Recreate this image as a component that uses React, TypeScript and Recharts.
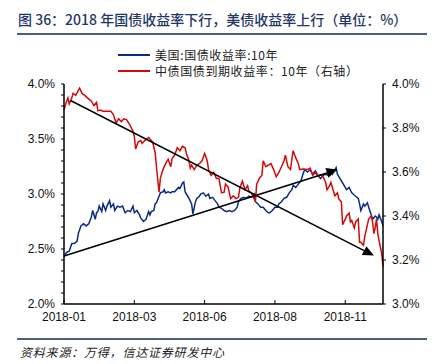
import React from 'react';
import { LineChart, Line, XAxis, YAxis, ReferenceLine, Legend } from 'recharts';

// trading-day index (0 = 2018-01-02) and yields
const usDays = [0, 2, 4, 6, 8, 10, 11, 13, 15, 17, 19, 21, 22, 24, 25, 26, 27, 29, 30, 32, 33, 35, 36, 38, 39, 41, 43, 45, 47, 49, 51, 53, 54, 56, 58, 59, 61, 63, 65, 66, 67, 69, 70, 71, 73, 74, 76, 77, 78, 80, 82, 83, 85, 88, 89, 91, 92, 93, 94, 96, 98, 99, 101, 102, 104, 105, 107, 109, 111, 112, 114, 116, 118, 119, 121, 123, 125, 127, 129, 131, 133, 134, 136, 138, 140, 142, 144, 146, 147, 149, 151, 153, 155, 157, 158, 160, 162, 164, 165, 167, 169, 171, 173, 175, 176, 178, 180, 182, 184, 185, 187, 189, 191, 193, 195, 197, 199, 201, 203, 205, 206, 208, 209, 210, 212, 214, 216, 217, 219, 221, 222, 224, 226, 227, 228, 230, 231, 233, 234, 236, 237, 239, 240, 241, 242, 244, 245];
const usYield = [2.43, 2.47, 2.48, 2.55, 2.55, 2.57, 2.64, 2.71, 2.73, 2.71, 2.73, 2.79, 2.85, 2.77, 2.83, 2.84, 2.89, 2.84, 2.91, 2.85, 2.89, 2.94, 2.88, 2.91, 2.85, 2.89, 2.88, 2.89, 2.83, 2.85, 2.84, 2.89, 2.83, 2.85, 2.81, 2.78, 2.75, 2.77, 2.84, 2.81, 2.84, 2.85, 2.91, 2.92, 2.98, 3.01, 3.02, 3.04, 3.01, 3.02, 3.01, 3.02, 3.02, 3.06, 3.05, 3.10, 3.11, 3.02, 3.00, 2.96, 2.91, 2.82, 2.93, 2.96, 2.98, 3.00, 3.01, 2.98, 3.00, 2.96, 2.97, 2.94, 2.91, 2.88, 2.87, 2.85, 2.84, 2.85, 2.84, 2.85, 2.88, 2.93, 2.96, 2.97, 2.96, 2.98, 2.97, 3.00, 2.93, 2.91, 2.88, 2.88, 2.85, 2.83, 2.83, 2.85, 2.88, 2.88, 2.91, 2.93, 2.96, 2.97, 3.01, 3.04, 3.08, 3.06, 3.09, 3.12, 3.20, 3.22, 3.20, 3.22, 3.18, 3.21, 3.17, 3.14, 3.17, 3.18, 3.17, 3.20, 3.18, 3.22, 3.24, 3.18, 3.14, 3.10, 3.06, 3.04, 3.06, 3.01, 3.00, 2.98, 2.96, 2.91, 2.85, 2.91, 2.89, 2.92, 2.88, 2.81, 2.77, 2.80, 2.79, 2.77, 2.81, 2.75, 2.71];

const cnDays = [0, 2, 3, 4, 6, 7, 9, 12, 14, 16, 18, 21, 23, 25, 26, 28, 30, 34, 36, 38, 40, 42, 44, 46, 48, 49, 51, 53, 54, 55, 57, 59, 60, 62, 65, 68, 70, 71, 73, 74, 76, 78, 80, 82, 83, 85, 87, 89, 91, 93, 94, 96, 97, 98, 100, 102, 104, 106, 108, 110, 111, 113, 115, 117, 119, 121, 123, 124, 126, 128, 130, 132, 134, 135, 137, 139, 141, 142, 144, 146, 147, 148, 150, 152, 153, 155, 157, 159, 161, 163, 165, 167, 169, 170, 172, 174, 175, 176, 178, 180, 181, 184, 187, 189, 191, 193, 195, 197, 199, 201, 202, 204, 205, 206, 208, 210, 211, 213, 214, 216, 217, 219, 220, 221, 223, 224, 226, 227, 228, 230, 231, 233, 234, 236, 237, 238, 239, 240, 241, 242, 244, 245];
const cnYield = [3.882, 3.922, 3.937, 3.909, 3.937, 3.958, 3.948, 3.981, 3.956, 3.948, 3.937, 3.922, 3.902, 3.917, 3.878, 3.882, 3.876, 3.876, 3.876, 3.860, 3.823, 3.842, 3.829, 3.842, 3.838, 3.829, 3.810, 3.783, 3.763, 3.704, 3.737, 3.743, 3.730, 3.743, 3.757, 3.737, 3.690, 3.624, 3.508, 3.571, 3.611, 3.638, 3.658, 3.624, 3.661, 3.677, 3.710, 3.697, 3.717, 3.710, 3.684, 3.651, 3.618, 3.631, 3.611, 3.631, 3.638, 3.651, 3.684, 3.651, 3.611, 3.585, 3.598, 3.571, 3.571, 3.505, 3.508, 3.545, 3.532, 3.479, 3.492, 3.479, 3.485, 3.525, 3.558, 3.519, 3.538, 3.512, 3.505, 3.479, 3.465, 3.545, 3.571, 3.585, 3.651, 3.624, 3.631, 3.638, 3.611, 3.578, 3.598, 3.624, 3.651, 3.677, 3.624, 3.611, 3.658, 3.697, 3.664, 3.638, 3.611, 3.614, 3.611, 3.618, 3.585, 3.598, 3.582, 3.587, 3.578, 3.552, 3.519, 3.538, 3.552, 3.532, 3.492, 3.505, 3.479, 3.465, 3.360, 3.386, 3.400, 3.413, 3.373, 3.380, 3.346, 3.373, 3.386, 3.281, 3.281, 3.267, 3.307, 3.360, 3.386, 3.400, 3.373, 3.320, 3.346, 3.386, 3.320, 3.287, 3.230, 3.170];

const xTickDays = [0, 54, 108, 162, 216];
const xTickLabels = ['2018-01', '2018-03', '2018-06', '2018-08', '2018-11'];
const leftTicks = [2.0, 2.1, 2.2, 2.3, 2.4, 2.5, 2.6, 2.7, 2.8, 2.9, 3.0, 3.1, 3.2, 3.3, 3.4, 3.5, 3.6, 3.7, 3.8, 3.9, 4.0];
const rightTicks = [3.0, 3.2, 3.4, 3.6, 3.8, 4.0];

// arrow annotations, on the left axis scale: [startDay, startValue, endDay, endValue]
const downArrow = [5, 3.85, 238, 2.44];
const upArrow = [0, 2.437, 210, 3.222];

const title = '图 36：2018 年国债收益率下行，美债收益率上行（单位：%）';
const source = '资料来源：万得，信达证券研发中心';
const usName = '美国:国债收益率:10年';
const cnName = '中债国债到期收益率：10年（右轴）';

const usData = usDays.map((d, i) => ({ day: d, us: usYield[i] }));
const cnData = cnDays.map((d, i) => ({ day: d, cn: cnYield[i] }));

const tickFont = { fontFamily: '"Liberation Sans", Arial, sans-serif', fontSize: 12, fill: '#111' };
const cjk = '"Noto Sans CJK SC", sans-serif';

const XTick = (props: any) => {
  const { x, y, payload } = props;
  const idx = xTickDays.indexOf(payload.value);
  return (
    <g>
      <line x1={x} y1={y} x2={x} y2={y - 4} stroke="#000" />
      <text x={x} y={y + 17} textAnchor="middle" {...tickFont}>{xTickLabels[idx]}</text>
    </g>
  );
};

const ArrowShape = (props: any) => {
  const { x1, y1, x2, y2 } = props;
  if (x1 == null) return null;
  const ang = Math.atan2(y2 - y1, x2 - x1);
  const len = 11;
  const half = 5;
  const bx = x2 - len * Math.cos(ang);
  const by = y2 - len * Math.sin(ang);
  const px = -Math.sin(ang) * half;
  const py = Math.cos(ang) * half;
  return (
    <g>
      <line x1={x1} y1={y1} x2={bx} y2={by} stroke="#000" strokeWidth={1.6} />
      <polygon points={`${x2},${y2} ${bx + px},${by + py} ${bx - px},${by - py}`} fill="#000" />
    </g>
  );
};

const LegendBox = () => (
  <div style={{ fontFamily: cjk, fontSize: 12, color: '#222', lineHeight: '16px' }}>
    <div style={{ display: 'flex', alignItems: 'center' }}>
      <span style={{ display: 'inline-block', width: 32, height: 2, background: '#0B2A86', marginRight: 5 }} />
      <span style={{ letterSpacing: 0.6 }}>{usName}</span>
    </div>
    <div style={{ display: 'flex', alignItems: 'center' }}>
      <span style={{ display: 'inline-block', width: 32, height: 2, background: '#D10A0A', marginRight: 5 }} />
      <span style={{ letterSpacing: 0.6 }}>{cnName}</span>
    </div>
  </div>
);

const App = () => {
  return (
    <div style={{ position: 'fixed', left: 0, top: 0, width: 434, height: 364, background: '#fff', overflow: 'hidden' }}>
      <LineChart width={434} height={364} margin={{ top: 52, right: 0, bottom: 30, left: 0 }}>
        <XAxis
          dataKey="day"
          type="number"
          domain={[0, 245]}
          ticks={xTickDays}
          interval={0}
          height={30}
          tickSize={0}
          tickMargin={0}
          tickLine={false}
          axisLine={{ stroke: '#000', strokeWidth: 1.5 }}
          tick={<XTick />}
        />
        <YAxis
          yAxisId="left"
          domain={[2, 4]}
          ticks={leftTicks}
          interval={0}
          width={64}
          tickSize={3}
          tickMargin={6}
          axisLine={{ stroke: '#000', strokeWidth: 1.5 }}
          tickLine={{ stroke: '#000' }}
          tick={tickFont}
          tickFormatter={(v: number) => (Math.abs(v * 2 - Math.round(v * 2)) < 1e-6 ? v.toFixed(1) + '%' : '')}
        />
        <YAxis
          yAxisId="right"
          orientation="right"
          domain={[3, 4]}
          ticks={rightTicks}
          interval={0}
          width={51}
          tickSize={3}
          tickMargin={6}
          axisLine={{ stroke: '#000', strokeWidth: 1.5 }}
          tickLine={{ stroke: '#000' }}
          tick={{ ...tickFont, textAnchor: 'start' }}
          tickFormatter={(v: number) => v.toFixed(1) + '%'}
        />
        <Legend
          verticalAlign="top"
          align="left"
          content={<LegendBox />}
          wrapperStyle={{ position: 'absolute', top: 47, left: 118, width: 'auto' }}
        />
        <Line
          yAxisId="left"
          data={usData}
          dataKey="us"
          name={usName}
          stroke="#0B2A86"
          strokeWidth={1.5}
          dot={false}
          isAnimationActive={false}
        />
        <Line
          yAxisId="right"
          data={cnData}
          dataKey="cn"
          name={cnName}
          stroke="#D10A0A"
          strokeWidth={1.5}
          dot={false}
          isAnimationActive={false}
        />
        <ReferenceLine
          yAxisId="left"
          segment={[{ x: downArrow[0], y: downArrow[1] }, { x: downArrow[2], y: downArrow[3] }]}
          ifOverflow="visible"
          shape={(p: any) => <ArrowShape {...p} />}
        />
        <ReferenceLine
          yAxisId="left"
          segment={[{ x: upArrow[0], y: upArrow[1] }, { x: upArrow[2], y: upArrow[3] }]}
          ifOverflow="visible"
          shape={(p: any) => <ArrowShape {...p} />}
        />
        <text x={18} y={25} fontFamily={cjk} fontSize={14} fontWeight={500} fill="#1F3666">{title}</text>
        <rect x={17} y={33} width={410} height={2} fill="#4B5F82" />
        <rect x={17} y={338} width={410} height={2} fill="#4B5F82" />
        <text x={20} y={357} fontFamily={cjk} fontSize={12} fontStyle="italic" fill="#222" letterSpacing={0.8}>{source}</text>
      </LineChart>
    </div>
  );
};

export default App;
